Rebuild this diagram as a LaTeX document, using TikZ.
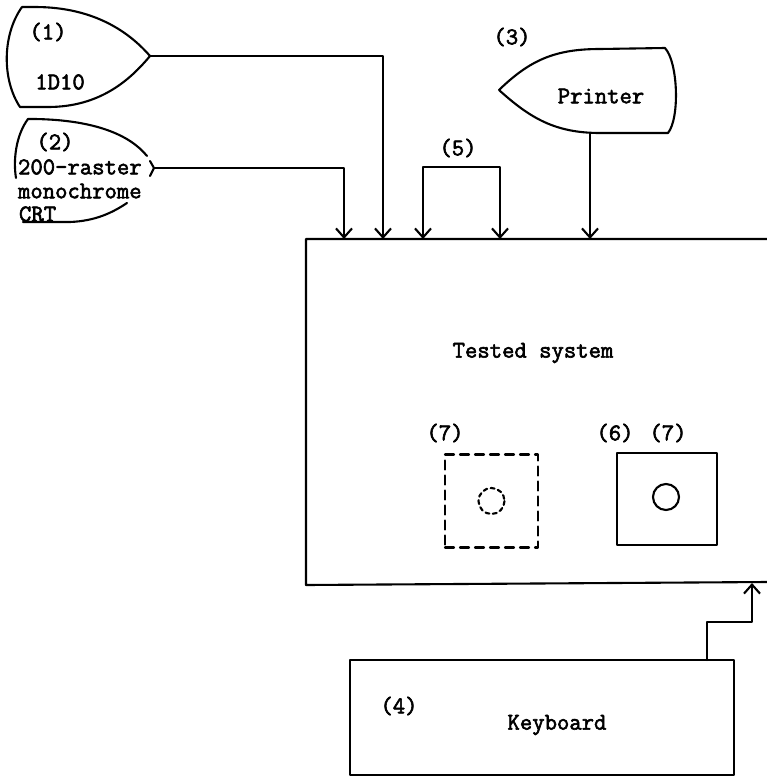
\documentclass[tikz,border=0pt]{standalone}
\usepackage{fontspec}
\newfontfamily\tw{Latin Modern Mono}[FakeBold=2.5]
\usetikzlibrary{arrows.meta}
\begin{document}
\begin{tikzpicture}[x=1pt,y=-1pt,
  line width=2.1pt, line join=round, line cap=round,
  lbl/.style={inner sep=0pt, font=\tw\fontsize{24}{26}\selectfont},
  arr/.style={-{Straight Barb[length=9pt,width=16pt,line width=2.1pt]}},
  darr/.style={{Straight Barb[length=9pt,width=16pt,line width=2.1pt]}-{Straight Barb[length=9pt,width=16pt,line width=2.1pt]}},
  unitbox/.style={draw, minimum width=#1, minimum height=#1, inner sep=0pt}]
\useasboundingbox (0,0) rectangle (767,777);

% ---- (1) 1D10 display
\draw (22,7) -- (35,7) .. controls (95,7) and (130,33) .. (150,56)
      .. controls (130,80) and (100,107) .. (48,107) -- (20,107)
      .. controls (2,80) and (2,35) .. (22,7);
\coordinate (d1) at (150,56);
\node[lbl] (l1) at (48,32) {(1)};
\node[lbl] (t1) at (60,82) {1D10};

% ---- (2) CRT display
\draw (28,119) -- (35,119) .. controls (95,120) and (130,135) .. (147,156);
\draw (150,161) -- (154,168) -- (150,176);
\draw (127,203) .. controls (112,213) and (95,221) .. (70,222) -- (23,222);
\draw (28,119) .. controls (16,135) and (13,160) .. (16,178);
\coordinate (d2) at (154,168);
\node[lbl] (l2) at (55,142) {(2)};
\node[lbl, anchor=west] (t2a) at (17,167) {200-raster};
\node[lbl, anchor=west] (t2b) at (17,191) {monochrome};
\node[lbl, anchor=west] (t2c) at (18,214) {CRT};

% ---- (3) Printer
\draw (499,90) .. controls (530,60) and (555,49) .. (600,49) -- (665,48)
      .. controls (678,62) and (680,118) .. (668,133) -- (600,133)
      .. controls (555,133) and (530,118) .. (499,90);
\coordinate (pr) at (590,133);
\node[lbl] (l3) at (512,37) {(3)};
\node[lbl] (t3) at (601,96) {Printer};

% ---- Tested system
\coordinate (tsTR) at (767,239);
\coordinate (tsTL) at (306,239);
\coordinate (tsBL) at (306,585);
\coordinate (tsBR) at (767,582);
\draw (tsTR) -- (tsTL) -- (tsBL) -- (tsBR);
\node[lbl] (ts) at (533,353) {Tested system};

\coordinate (in2) at (344,239);
\coordinate (in1) at (383,239);
\coordinate (in5a) at (423,239);
\coordinate (in5b) at (500,239);
\coordinate (in3) at (590,239);

\draw[arr] (d1) -| (in1);
\draw[arr] (d2) -| (in2);
\draw[darr] (in5a) -- (423,167) -- (500,167) -- (in5b);
\node[lbl] (l5) at (458,148) {(5)};
\draw[arr] (pr) -- (in3);

% ---- (7) dashed unit
\node[unitbox=93pt, dashed, dash pattern=on 9pt off 6pt] (u7) at (491.5,501) {};
\draw[dashed, dash pattern=on 4pt off 3.5pt] (u7.center) circle (13);
\node[lbl] (l7a) at (445,433) {(7)};

% ---- (6)(7) solid unit
\node[draw, minimum width=100pt, minimum height=92pt, inner sep=0pt] (u6) at (667,499) {};
\draw (666,497) circle (13);
\node[lbl] (l6) at (615,433) {(6)};
\node[lbl] (l7b) at (668,433) {(7)};

% ---- (4) Keyboard
\node[draw, minimum width=384pt, minimum height=115pt, inner sep=0pt] (kb) at (542,717.5) {};
\node[lbl] (l4) at (399,706) {(4)};
\node[lbl] (t4) at (557,725) {Keyboard};
\coordinate (kbout) at (707,660);
\coordinate (kbin) at (752,583);
\draw[arr] (kbout) -- (707,622) -| (kbin);
\end{tikzpicture}
\end{document}
